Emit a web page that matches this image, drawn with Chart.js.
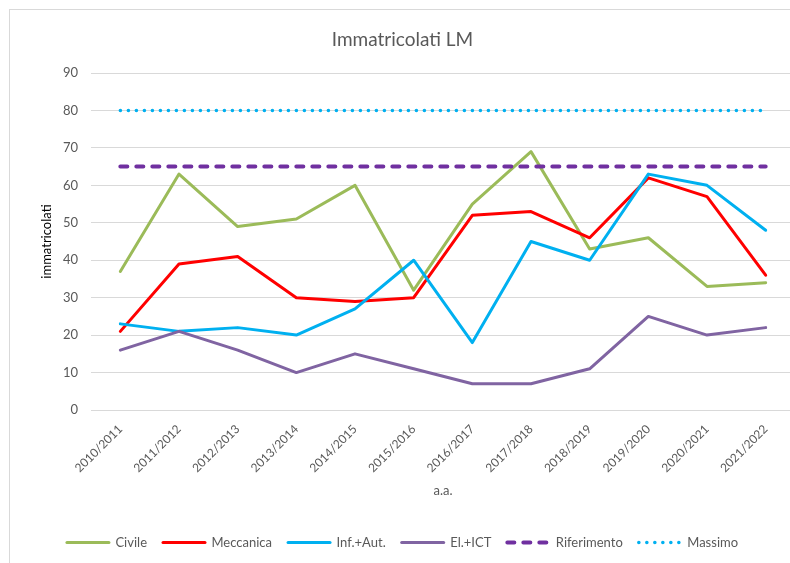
<!DOCTYPE html>
<html>
<head>
<meta charset="utf-8">
<script src="https://cdn.jsdelivr.net/npm/chart.js@4.4.0/dist/chart.umd.min.js"></script>
<style>
  html, body { margin: 0; padding: 0; background: #fff; overflow: hidden; width: 790px; height: 563px; }
  #frame { position: absolute; left: 9px; top: 9px; width: 796px; height: 600px; border: 1px solid #d9d9d9; pointer-events: none; }
  #wrap { position: absolute; left: 10px; top: 10px; width: 795px; height: 549px; }
</style>
</head>
<body>
<div id="wrap"><canvas id="mycanvas"></canvas></div>
<div id="frame"></div>
<script>
var years = ['2010/2011', '2011/2012', '2012/2013', '2013/2014', '2014/2015', '2015/2016',
             '2016/2017', '2017/2018', '2018/2019', '2019/2020', '2020/2021', '2021/2022'];
var civile = [37, 63, 49, 51, 60, 32, 55, 69, 43, 46, 33, 34];
var meccanica = [21, 39, 41, 30, 29, 30, 52, 53, 46, 62, 57, 36];
var infAut = [23, 21, 22, 20, 27, 40, 18, 45, 40, 63, 60, 48];
var elIct = [16, 21, 16, 10, 15, 11, 7, 7, 11, 25, 20, 22];
var riferimento = [65, 65, 65, 65, 65, 65, 65, 65, 65, 65, 65, 65];
var massimo = [80, 80, 80, 80, 80, 80, 80, 80, 80, 80, 80, 80];

var grey = '#595959';
var font = 'Lato';

function serie(label, data, color, width, dash) {
    return {
        label: label,
        data: data,
        borderColor: color,
        backgroundColor: color,
        borderWidth: width,
        borderDash: dash || [],
        borderCapStyle: 'round',
        borderJoinStyle: 'round',
        pointRadius: 0,
        pointHoverRadius: 0,
        tension: 0,
        fill: false
    };
}

var datasets = [
    serie('Civile', civile, '#9bbb59', 3),
    serie('Meccanica', meccanica, '#ff0000', 3),
    serie('Inf.+Aut.', infAut, '#00b0f0', 3),
    serie('El.+ICT', elIct, '#8064a2', 3),
    serie('Riferimento', riferimento, '#7030a0', 4, [7, 9]),
    serie('Massimo', massimo, '#00b0f0', 3.5, [0.1, 7.9])
];
// later series on top, like the spreadsheet
datasets.forEach(function (d, i) { d.order = datasets.length - i; });

var ctx = document.getElementById('mycanvas');
new Chart(ctx, {
    type: 'line',
    data: { labels: years, datasets: datasets },
    options: {
        responsive: true,
        maintainAspectRatio: false,
        animation: false,
        layout: { padding: { left: 0, right: 10, top: 0, bottom: 0 } },
        plugins: {
            title: {
                display: true,
                text: 'Immatricolati LM',
                color: grey,
                font: { family: font, size: 19, weight: 'normal' },
                padding: { top: 18.6, bottom: 21.6 }
            },
            legend: {
                position: 'bottom',
                labels: {
                    color: grey,
                    font: { family: font, size: 13 },
                    usePointStyle: true,
                    pointStyle: 'line',
                    pointStyleWidth: 42,
                    padding: 16,
                    sort: function (a, b) { return a.datasetIndex - b.datasetIndex; },
                    generateLabels: function (chart) {
                        var items = Chart.defaults.plugins.legend.labels.generateLabels(chart);
                        items.forEach(function (it) {
                            var ds = chart.data.datasets[it.datasetIndex];
                            it.lineDash = ds.borderDash;
                            it.lineCap = 'round';
                            it.lineWidth = ds.borderWidth;
                            it.strokeStyle = ds.borderColor;
                        });
                        return items;
                    }
                }
            },
            tooltip: { enabled: false }
        },
        scales: {
            x: {
                offset: true,
                grid: { display: false },
                border: { display: false },
                ticks: {
                    color: grey,
                    font: { family: font, size: 12 },
                    maxRotation: 45,
                    minRotation: 45,
                    padding: 4
                },
                title: {
                    display: true,
                    text: 'a.a.',
                    color: grey,
                    font: { family: font, size: 13 },
                    padding: { top: 4, bottom: 21 }
                },
                afterFit: function (scale) { scale.height = 110; }
            },
            y: {
                min: 0,
                max: 90,
                grid: { color: '#d9d9d9', lineWidth: 1, drawTicks: false },
                border: { display: false },
                ticks: {
                    stepSize: 10,
                    color: grey,
                    font: { family: font, size: 13 },
                    padding: 13
                },
                title: {
                    display: true,
                    text: 'immatricolati',
                    color: '#000',
                    font: { family: font, size: 13 },
                    padding: { top: 29, bottom: 0 }
                },
                afterFit: function (scale) { scale.width = 81; }
            }
        }
    }
});
</script>
</body>
</html>
